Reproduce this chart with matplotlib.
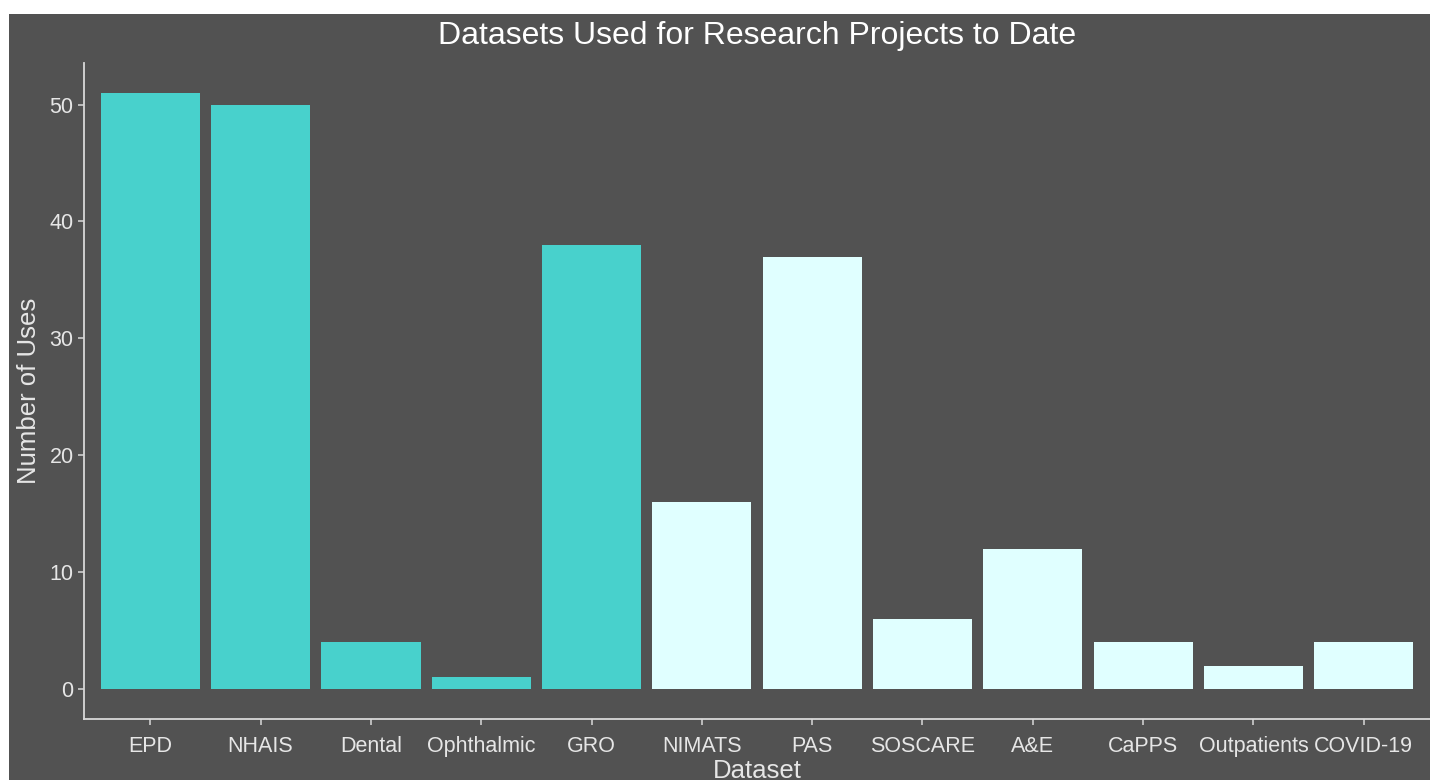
import matplotlib.pyplot as plt
from matplotlib.patches import Rectangle

plt.rcParams['font.family'] = ['Liberation Sans', 'DejaVu Sans']

# data
datasets = ["EPD", "NHAIS", "Dental", "Ophthalmic", "GRO", "NIMATS", "PAS",
            "SOSCARE", "A&E", "CaPPS", "Outpatients", "COVID-19"]
uses = [51, 50, 4, 1, 38, 16, 37, 6, 12, 4, 2, 4]
group = ["a", "a", "a", "a", "a", "b", "b", "b", "b", "b", "b", "b"]
yticks = [0, 10, 20, 30, 40, 50]

bg = "#525252"
txt = "#E6E6E6"
line_col = "#D9D9D9"
fills = {"a": "#48D1CC", "b": "#E0FFFF"}

W, H = 1430, 780
fig = plt.figure(figsize=(W / 100, H / 100), dpi=100, facecolor="white")
# dark panel (leaves a thin white strip on top and left)
fig.patches.append(Rectangle((9 / W, 0), 1 - 9 / W, 1 - 14 / H,
                             transform=fig.transFigure, facecolor=bg,
                             edgecolor="none", zorder=-10))

ax = fig.add_axes([84 / W, (H - 719) / H, 1 - 84 / W, (719 - 63) / H])
ax.set_facecolor(bg)
ax.set_zorder(1)

x = list(range(len(datasets)))
ax.bar(x, uses, width=0.9, color=[fills[g] for g in group])

ax.set_xlim(-0.6, len(datasets) - 0.4)
ax.set_ylim(-0.05 * max(uses), 1.05 * max(uses))
ax.set_xticks(x)
ax.set_xticklabels(datasets)
ax.set_yticks(yticks)

for s in ["top", "right"]:
    ax.spines[s].set_visible(False)
for s in ["left", "bottom"]:
    ax.spines[s].set_color(line_col)
    ax.spines[s].set_linewidth(1.3)
ax.tick_params(colors=line_col, labelcolor=txt, labelsize=15.5, length=4, width=1.1)
ax.tick_params(axis="x", pad=8)

ax.set_xlabel("Dataset", color=txt, fontsize=18.5, labelpad=2)
ax.set_ylabel("Number of Uses", color=txt, fontsize=18.5, labelpad=6)
fig.text(757 / W, 1 - 36 / H, "Datasets Used for Research Projects to Date",
         ha="center", va="center", color="white", fontsize=23)

fig.savefig("out.png", dpi=100, facecolor=fig.get_facecolor())
